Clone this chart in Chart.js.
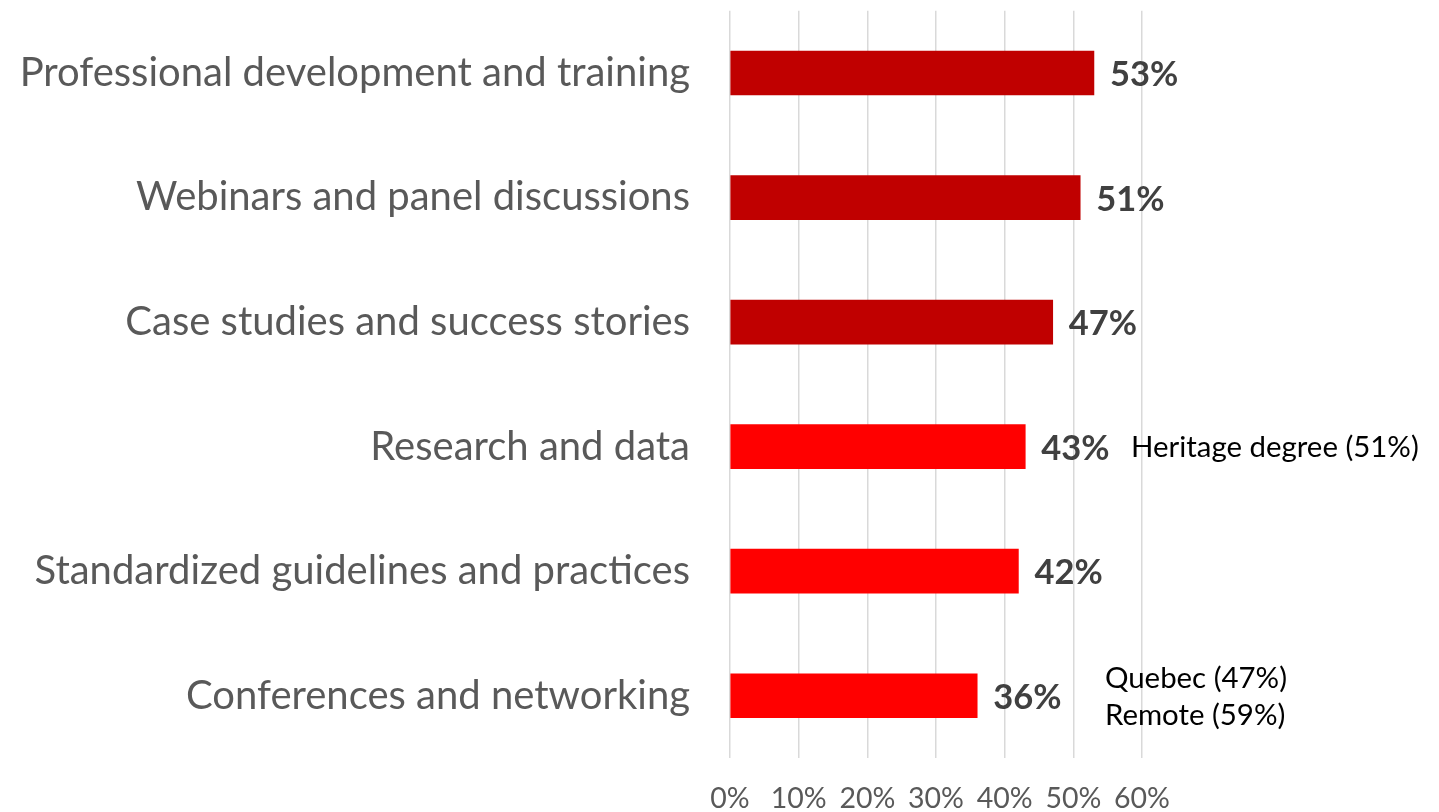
<!DOCTYPE html>
<html>
<head>
<meta charset="utf-8">
<script src="https://cdn.jsdelivr.net/npm/chart.js@4.4.1/dist/chart.umd.min.js"></script>
<style>
  html, body { margin: 0; padding: 0; background: #ffffff; }
  #wrap { width: 1439px; height: 812px; position: relative; }
</style>
</head>
<body>
<div id="wrap"><canvas id="c"></canvas></div>
<script>
const categories = [
  "Professional development and training",
  "Webinars and panel discussions",
  "Case studies and success stories",
  "Research and data",
  "Standardized guidelines and practices",
  "Conferences and networking"
];
const values = [53, 51, 47, 43, 42, 36];
const barColors = ["#C00000", "#C00000", "#C00000", "#FF0000", "#FF0000", "#FF0000"];
const tickValues = [0, 10, 20, 30, 40, 50, 60];
const notes = [
  { index: 3, at: 58.4, lines: ["Heritage degree (51%)"] },
  { index: 5, at: 54.6, lines: ["Quebec (47%)", "Remote (59%)"] }
];

const FONT = "Lato, 'Open Sans', sans-serif";

const labelPlugin = {
  id: 'valueLabels',
  afterDatasetsDraw(chart) {
    const ctx = chart.ctx;
    const meta = chart.getDatasetMeta(0);
    ctx.save();
    ctx.font = "bold 34.5px " + FONT;
    ctx.fillStyle = "#404040";
    ctx.textAlign = "left";
    ctx.textBaseline = "middle";
    meta.data.forEach((bar, i) => {
      ctx.fillText(values[i] + "%", bar.x + 16, bar.y + 2);
    });
    const xs = chart.scales.x, ys = chart.scales.y;
    ctx.font = "29.4px " + FONT;
    ctx.fillStyle = "#000000";
    notes.forEach(n => {
      const x = xs.getPixelForValue(n.at);
      const yc = ys.getPixelForValue(n.index) + 1;
      const lh = 37;
      const start = yc - (n.lines.length - 1) * lh / 2;
      n.lines.forEach((t, k) => ctx.fillText(t, x, start + k * lh));
    });
    ctx.restore();
  }
};

new Chart(document.getElementById('c'), {
  type: 'bar',
  data: {
    labels: categories,
    datasets: [{
      data: values,
      backgroundColor: barColors,
      borderWidth: 0,
      barThickness: 44
    }]
  },
  options: {
    indexAxis: 'y',
    responsive: true,
    maintainAspectRatio: false,
    animation: false,
    layout: { padding: { top: 10.75, right: 297, left: 0, bottom: 0 } },
    plugins: { legend: { display: false }, tooltip: { enabled: false } },
    scales: {
      x: {
        min: 0, max: 60,
        afterBuildTicks(scale) { scale.ticks = tickValues.map(v => ({ value: v })); },
        afterFit(scale) { scale.height = 54; scale.paddingLeft = 0; scale.paddingRight = 0; },
        border: { display: false },
        grid: { color: "#D9D9D9", lineWidth: 1.5, drawTicks: false },
        ticks: {
          padding: 24,
          color: "#595959",
          font: { family: FONT, size: 28.5 },
          callback: v => v + "%"
        }
      },
      y: {
        afterFit(scale) { scale.width = 730; scale.paddingTop = 0; scale.paddingBottom = 0; },
        border: { display: false },
        grid: { display: false, drawTicks: false },
        ticks: {
          padding: 40,
          color: "#595959",
          font: { family: FONT, size: 40 }
        }
      }
    }
  },
  plugins: [labelPlugin]
});
</script>
</body>
</html>
